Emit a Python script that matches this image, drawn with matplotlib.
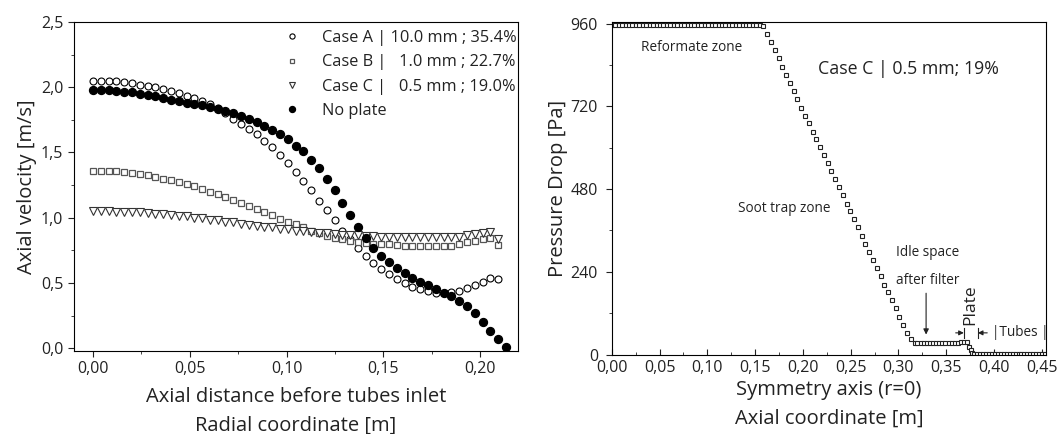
import numpy as np
import matplotlib
matplotlib.use("Agg")
import matplotlib.pyplot as plt
from matplotlib.ticker import MultipleLocator, FuncFormatter

plt.rcParams['font.family'] = ['Open Sans', 'DejaVu Sans']
plt.rcParams['text.color'] = '#222222'
plt.rcParams['axes.labelcolor'] = '#222222'
plt.rcParams['xtick.color'] = '#222222'
plt.rcParams['ytick.color'] = '#222222'

########## left panel: axial velocity before tubes inlet
dx_left = 0.004025

case_a = [2.05, 2.05, 2.05, 2.045, 2.04, 2.03, 2.02, 2.01, 2.00, 1.985,
          1.97, 1.955, 1.935, 1.915, 1.895, 1.87, 1.84, 1.80, 1.76, 1.72,
          1.68, 1.64, 1.59, 1.54, 1.48, 1.42, 1.35, 1.28, 1.21, 1.13,
          1.06, 0.98, 0.90, 0.84, 0.77, 0.71, 0.655, 0.61, 0.565, 0.53,
          0.50, 0.47, 0.45, 0.435, 0.425, 0.425, 0.43, 0.44, 0.46, 0.485,
          0.51, 0.54, 0.53]
case_b = [1.36, 1.36, 1.36, 1.355, 1.35, 1.34, 1.335, 1.325, 1.31, 1.30,
          1.29, 1.27, 1.255, 1.24, 1.22, 1.20, 1.18, 1.16, 1.135, 1.11,
          1.09, 1.065, 1.045, 1.02, 0.99, 0.97, 0.95, 0.925, 0.90, 0.88,
          0.86, 0.845, 0.835, 0.82, 0.815, 0.805, 0.80, 0.80, 0.795, 0.79,
          0.785, 0.78, 0.78, 0.78, 0.78, 0.78, 0.785, 0.795, 0.81, 0.825,
          0.84, 0.845, 0.79]
case_c = [1.05, 1.05, 1.05, 1.045, 1.045, 1.04, 1.04, 1.035, 1.03, 1.025,
          1.02, 1.015, 1.01, 1.00, 0.995, 0.985, 0.98, 0.97, 0.965, 0.955,
          0.945, 0.94, 0.93, 0.925, 0.915, 0.91, 0.90, 0.895, 0.89, 0.885,
          0.88, 0.875, 0.87, 0.865, 0.865, 0.86, 0.86, 0.855, 0.855, 0.855,
          0.85, 0.85, 0.85, 0.85, 0.85, 0.85, 0.85, 0.855, 0.865, 0.875,
          0.885, 0.89, 0.835]
no_plate = [1.98, 1.98, 1.975, 1.97, 1.965, 1.96, 1.95, 1.94, 1.93, 1.92,
            1.905, 1.895, 1.88, 1.87, 1.86, 1.845, 1.83, 1.815, 1.80, 1.78,
            1.76, 1.73, 1.70, 1.67, 1.64, 1.60, 1.55, 1.51, 1.445, 1.38,
            1.30, 1.21, 1.11, 1.02, 0.93, 0.845, 0.77, 0.71, 0.66, 0.615,
            0.575, 0.54, 0.51, 0.485, 0.45, 0.425, 0.40, 0.365, 0.32, 0.27,
            0.20, 0.13, 0.07, 0.005]

labels = ["Case A | 10.0 mm ; 35.4%",
          "Case B |   1.0 mm ; 22.7%",
          "Case C |   0.5 mm ; 19.0%",
          "No plate"]

########## right panel: pressure drop along symmetry axis, case C
p_reform = [955, 955, 955, 955, 955, 955, 955, 955, 955, 955,
            955, 955, 955, 955, 955, 955, 955, 955, 955, 955,
            955, 955, 955, 955, 955, 955, 955, 955, 955, 955,
            955, 955, 955, 955, 955, 955, 955, 955, 955, 955,
            955, 955, 955, 955, 953]
p_soot = [931, 906, 882, 859, 835, 812, 789, 765, 740, 716,
          693, 671, 647, 625, 603, 579, 557, 532, 508, 485,
          462, 438, 415, 392, 369, 345, 321, 298, 274, 250,
          228, 203, 181, 157, 135, 110, 86, 63, 44, 34]
p_idle = [33, 33, 33, 33, 33, 33, 33, 34, 34, 34,
          34, 35, 35, 35, 36, 37, 37]
p_plate = [23, 12, 4]
p_tubes = [3, 3, 3, 3, 3, 3, 3, 3, 3, 3,
           3, 3, 3, 3, 3, 3, 3, 3, 3, 3,
           3, 3, 3, 3, 3]

x_reform = np.linspace(0.0, 0.1585, len(p_reform))
x_soot = np.linspace(0.1627, 0.3169, len(p_soot))
x_idle = np.linspace(0.3200, 0.3720, len(p_idle))
x_plate = np.linspace(0.3740, 0.3775, len(p_plate))
x_tubes = np.linspace(0.3795, 0.4535, len(p_tubes))

comma2 = FuncFormatter(lambda v, p: ('%.2f' % v).replace('.', ','))
comma1 = FuncFormatter(lambda v, p: ('%.1f' % v).replace('.', ','))

fig = plt.figure(figsize=(10.58, 4.34), dpi=100)
ax1 = fig.add_axes([0.0697, 0.1915, 0.4201, 0.7578])
ax2 = fig.add_axes([0.5783, 0.183, 0.4106, 0.7666])

x_a = np.arange(len(case_a)) * dx_left
x_np = np.arange(len(no_plate)) * dx_left
ax1.plot(x_a, case_a, 'o', ms=5, mfc='white', mec='black', mew=0.8, label=labels[0])
ax1.plot(x_a, case_b, 's', ms=4.3, mfc='white', mec='#555555', mew=0.9, label=labels[1])
ax1.plot(x_a, case_c, 'v', ms=5.5, mfc='white', mec='#333333', mew=0.8, label=labels[2])
ax1.plot(x_np, no_plate, 'o', ms=5.7, mfc='black', mec='black', label=labels[3])

ax1.set_xlim(-0.01, 0.2197)
ax1.set_ylim(-0.021, 2.5)
ax1.xaxis.set_major_locator(MultipleLocator(0.05))
ax1.xaxis.set_minor_locator(MultipleLocator(0.025))
ax1.yaxis.set_major_locator(MultipleLocator(0.5))
ax1.yaxis.set_minor_locator(MultipleLocator(0.25))
ax1.xaxis.set_major_formatter(comma2)
ax1.yaxis.set_major_formatter(comma1)
ax1.tick_params(which='both', direction='out', labelsize=11.5)
ax1.tick_params(which='major', length=4)
ax1.tick_params(which='minor', length=2.5)
ax1.set_xlabel('Axial distance before tubes inlet\nRadial coordinate [m]',
               fontsize=14.5, linespacing=1.55, labelpad=7)
ax1.set_ylabel('Axial velocity [m/s]', fontsize=14.5, labelpad=3)
ax1.legend(loc='upper left', bbox_to_anchor=(0.473, 0.975), frameon=False,
           fontsize=11.8, borderpad=0, borderaxespad=0, handlelength=1.0,
           handletextpad=1.3, labelspacing=0.5, markerscale=0.75)

for xs, ps in [(x_reform, p_reform), (x_soot, p_soot), (x_idle, p_idle),
               (x_plate, p_plate), (x_tubes, p_tubes)]:
    ax2.plot(xs, ps, 's', ms=3.0, mfc='white', mec='#222222', mew=0.8)

ax2.set_xlim(0, 0.4548)
ax2.set_ylim(0, 965)
ax2.xaxis.set_major_locator(MultipleLocator(0.05))
ax2.xaxis.set_minor_locator(MultipleLocator(0.025))
ax2.yaxis.set_major_locator(MultipleLocator(240))
ax2.yaxis.set_minor_locator(MultipleLocator(120))
ax2.xaxis.set_major_formatter(comma2)
ax2.tick_params(axis='x', which='both', direction='in', pad=4)
ax2.tick_params(axis='y', which='both', direction='out', pad=6)
ax2.tick_params(which='both', labelsize=11.5)
ax2.tick_params(which='major', length=4)
ax2.tick_params(which='minor', length=2.5)
ax2.set_xlabel('Symmetry axis (r=0)\nAxial coordinate [m]',
               fontsize=14.5, linespacing=1.55, labelpad=3)
ax2.set_ylabel('Pressure Drop [Pa]', fontsize=14.5, labelpad=2)

ax2.text(0.0835, 891, 'Reformate zone', fontsize=9.8, ha='center', va='center')
ax2.text(0.180, 423, 'Soot trap zone', fontsize=9.8, ha='center', va='center')
ax2.text(0.310, 828, 'Case C | 0.5 mm; 19%', fontsize=12.8, ha='center', va='center')
ax2.text(0.331, 296, 'Idle space', fontsize=9.8, ha='center', va='center')
ax2.text(0.331, 216, 'after filter', fontsize=9.8, ha='center', va='center')
ax2.annotate('', xy=(0.329, 50), xytext=(0.329, 186),
             arrowprops=dict(arrowstyle='-|>', color='#222222', lw=0.8,
                             mutation_scale=8))
ax2.text(0.3757, 145, 'Plate', fontsize=12.5, rotation=90, ha='center', va='center')
ax2.text(0.4275, 63, '|Tubes |', fontsize=9.8, ha='center', va='center')
ax2.annotate('', xy=(0.3685, 63), xytext=(0.360, 63),
             arrowprops=dict(arrowstyle='-|>', color='#222222', lw=0.8,
                             mutation_scale=7, shrinkA=0, shrinkB=0))
ax2.annotate('', xy=(0.3832, 63), xytext=(0.393, 63),
             arrowprops=dict(arrowstyle='-|>', color='#222222', lw=0.8,
                             mutation_scale=7, shrinkA=0, shrinkB=0))
ax2.plot([0.3688, 0.3688], [48, 78], color='#222222', lw=0.8)
ax2.plot([0.3829, 0.3829], [48, 78], color='#222222', lw=0.8)

plt.savefig('out.png', dpi=100)
